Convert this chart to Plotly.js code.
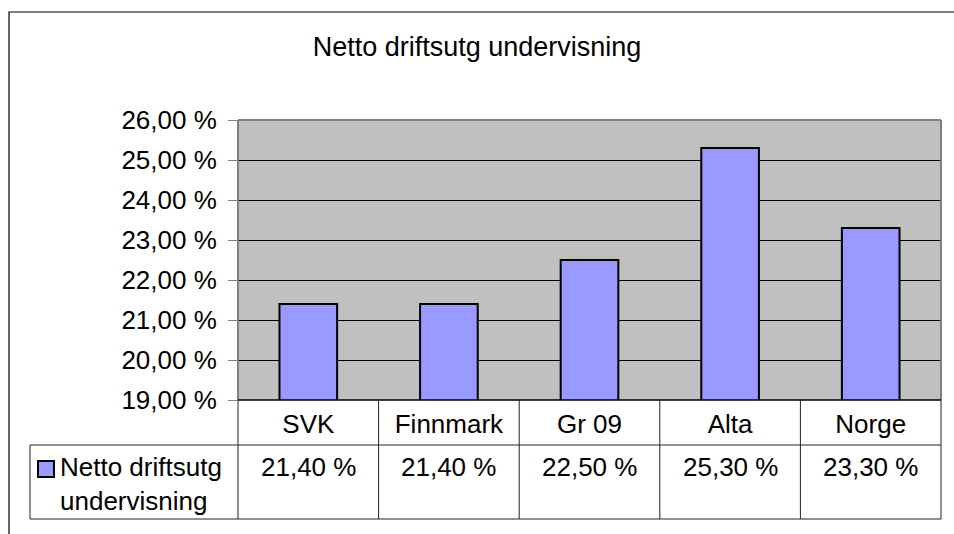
<!DOCTYPE html>
<html>
<head>
<meta charset="utf-8">
<script src="https://cdn.plot.ly/plotly-3.0.1.min.js"></script>
<style>
  body { margin: 0; background: #fff; }
  #chart { width: 954px; height: 534px; }
</style>
</head>
<body>
<div id="chart"></div>
<script>
// data
const categories = ['SVK', 'Finnmark', 'Gr 09', 'Alta', 'Norge']
const values = [21.4, 21.4, 22.5, 25.3, 23.3]
const seriesName = 'Netto driftsutg undervisning'

const barColor = '#9999FF'
const font = 'Arial, "Liberation Sans", sans-serif'
const fs = 26

// plot area in pixels
const W = 954, H = 534
const L = 238, R = 941, T = 120, B = 400
const px = x => (x - L) / (R - L)
const py = y => (B - y) / (B - T)

const fmt = v => v.toFixed(2).replace('.', ',') + ' %'

const line = (x0, y0, x1, y1, color, width) => ({
  type: 'line', xref: 'paper', yref: 'paper',
  x0: px(x0), y0: py(y0), x1: px(x1), y1: py(y1),
  line: { color: color || '#000', width: width || 1 },
  layer: 'above'
})

const chart = () => {
  const trace = [
    {
      name: seriesName,
      x: categories,
      y: values,
      type: 'bar',
      width: 0.41,
      marker: { color: barColor, line: { color: '#000', width: 2 } },
      hoverinfo: 'x+y',
    }
  ]

  // table grid
  const shapes = []
  const colEdges = [L]
  for (let i = 1; i <= categories.length; i++) colEdges.push(L + (R - L) * i / categories.length)
  colEdges.forEach(x => shapes.push(line(x, B, x, 519, '#222', 1)))
  shapes.push(line(30, 445, 30, 519, '#222', 1))
  shapes.push(line(30, 445, R, 445, '#222', 1))
  shapes.push(line(30, 519, R, 519, '#222', 1))

  // plot area border
  shapes.push(line(L, T, R, T, '#808080', 2))
  shapes.push(line(R, T, R, B, '#808080', 2))
  shapes.push(line(L, T, L, B, '#808080', 2))
  shapes.push(line(L, B, R, B, '#000', 1.5))

  // outer chart border
  shapes.push({
    type: 'rect', xref: 'paper', yref: 'paper',
    x0: px(9), y0: py(12), x1: px(960), y1: py(540),
    line: { color: '#000', width: 1.2 }, layer: 'above'
  })

  // legend key
  shapes.push({
    type: 'rect', xref: 'paper', yref: 'paper',
    x0: px(38), y0: py(461), x1: px(54), y1: py(477),
    fillcolor: barColor, line: { color: '#000', width: 2 }, layer: 'above'
  })

  const annotations = values.map((v, i) => ({
    x: categories[i], xref: 'x',
    y: py(467), yref: 'paper',
    text: fmt(v), showarrow: false,
    font: { family: font, size: fs, color: '#000' },
    xanchor: 'center', yanchor: 'middle'
  }))
  annotations.push({
    x: px(58), xref: 'paper', y: py(484), yref: 'paper',
    text: 'Netto driftsutg<br>undervisning', showarrow: false, align: 'left',
    font: { family: font, size: fs, color: '#000' },
    xanchor: 'left', yanchor: 'middle'
  })

  const layout = {
    width: W,
    height: H,
    margin: { l: L, r: W - R, t: T, b: H - B, pad: 0 },
    paper_bgcolor: '#fff',
    plot_bgcolor: '#C0C0C0',
    font: { family: font, size: fs, color: '#000' },
    title: {
      text: 'Netto driftsutg undervisning',
      x: 0.5, xref: 'container', xanchor: 'center',
      y: 1 - 47 / H, yref: 'container', yanchor: 'middle',
      font: { family: font, size: 27, color: '#000' }
    },
    showlegend: false,
    xaxis: {
      type: 'category',
      showgrid: false,
      zeroline: false,
      showline: false,
      ticks: '',
      ticklabelstandoff: 6,
      tickfont: { family: font, size: fs, color: '#000' },
      fixedrange: true,
    },
    yaxis: {
      range: [19, 26],
      dtick: 1,
      tick0: 19,
      tickformat: '.2f',
      ticksuffix: ' %',
      showgrid: true,
      gridcolor: '#000',
      gridwidth: 1,
      zeroline: false,
      showline: false,
      ticks: 'outside',
      ticklen: 9,
      tickcolor: '#808080',
      tickwidth: 1,
      ticklabelstandoff: 6,
      tickfont: { family: font, size: fs, color: '#000' },
      fixedrange: true,
    },
    separators: ', ',
    shapes: shapes,
    annotations: annotations,
  }

  Plotly.newPlot('chart', trace, layout, { displayModeBar: false, staticPlot: true })
}

chart()
</script>
</body>
</html>
